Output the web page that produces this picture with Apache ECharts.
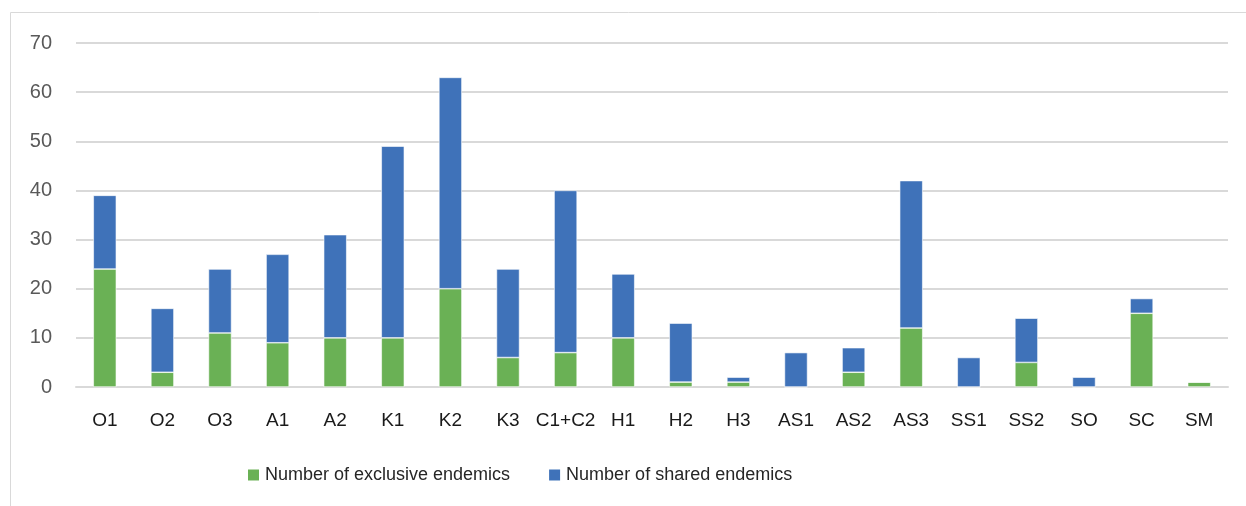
<!DOCTYPE html>
<html>
<head>
<meta charset="utf-8">
<script src="https://cdn.jsdelivr.net/npm/echarts@6/dist/echarts.min.js"></script>
<style>
  html, body { margin: 0; padding: 0; background: #fff; }
  #chart { width: 1246px; height: 506px; }
</style>
</head>
<body>
<div id="chart"></div>
<script>
// regions along the x axis
var categories = ['O1', 'O2', 'O3', 'A1', 'A2', 'K1', 'K2', 'K3', 'C1+C2', 'H1',
  'H2', 'H3', 'AS1', 'AS2', 'AS3', 'SS1', 'SS2', 'SO', 'SC', 'SM'];
// green part (bottom of each stack)
var exclusive = [24, 3, 11, 9, 10, 10, 20, 6, 7, 10, 1, 1, 0, 3, 12, 0, 5, 0, 15, 1];
// blue part (stacked on top)
var shared = [15, 13, 13, 18, 21, 39, 43, 18, 33, 13, 12, 1, 7, 5, 30, 6, 9, 2, 3, 0];
var yTicks = [0, 10, 20, 30, 40, 50, 60, 70];

var font = 'Liberation Sans';
var chart = echarts.init(document.getElementById('chart'), null, { renderer: 'canvas' });

chart.setOption({
  animation: false,
  textStyle: { fontFamily: font },
  graphic: [{
    type: 'rect',
    shape: { x: 10.5, y: 12.5, width: 1260, height: 520 },
    style: { fill: null, stroke: '#d9d9d9', lineWidth: 1 },
    silent: true
  }],
  grid: { left: 76, right: 18, top: 43, bottom: 119 },
  legend: {
    left: 241,
    top: 461,
    itemWidth: 13,
    itemHeight: 13,
    itemGap: 37,
    icon: 'rect',
    textStyle: { fontSize: 18, color: '#262626', fontFamily: font },
    data: ['Number of exclusive endemics', 'Number of shared endemics']
  },
  xAxis: {
    type: 'category',
    data: categories,
    axisLine: { lineStyle: { color: '#d9d9d9', width: 2 } },
    axisTick: { show: false },
    axisLabel: { fontSize: 19, color: '#1a1a1a', margin: 24, interval: 0 }
  },
  yAxis: {
    type: 'value',
    min: yTicks[0],
    max: yTicks[yTicks.length - 1],
    interval: 10,
    axisLine: { show: false },
    axisTick: { show: false },
    splitLine: { lineStyle: { color: '#d9d9d9', width: 2 } },
    axisLabel: { fontSize: 20, color: '#595959', margin: 24 }
  },
  series: [
    {
      name: 'Number of exclusive endemics',
      type: 'bar',
      stack: 'total',
      barWidth: '40%',
      data: exclusive,
      itemStyle: { color: '#6ab155', borderColor: '#ffffff', borderWidth: 0.6 }
    },
    {
      name: 'Number of shared endemics',
      type: 'bar',
      stack: 'total',
      barWidth: '40%',
      data: shared,
      itemStyle: { color: '#3f72b9', borderColor: '#ffffff', borderWidth: 0.6 }
    }
  ]
});
</script>
</body>
</html>
